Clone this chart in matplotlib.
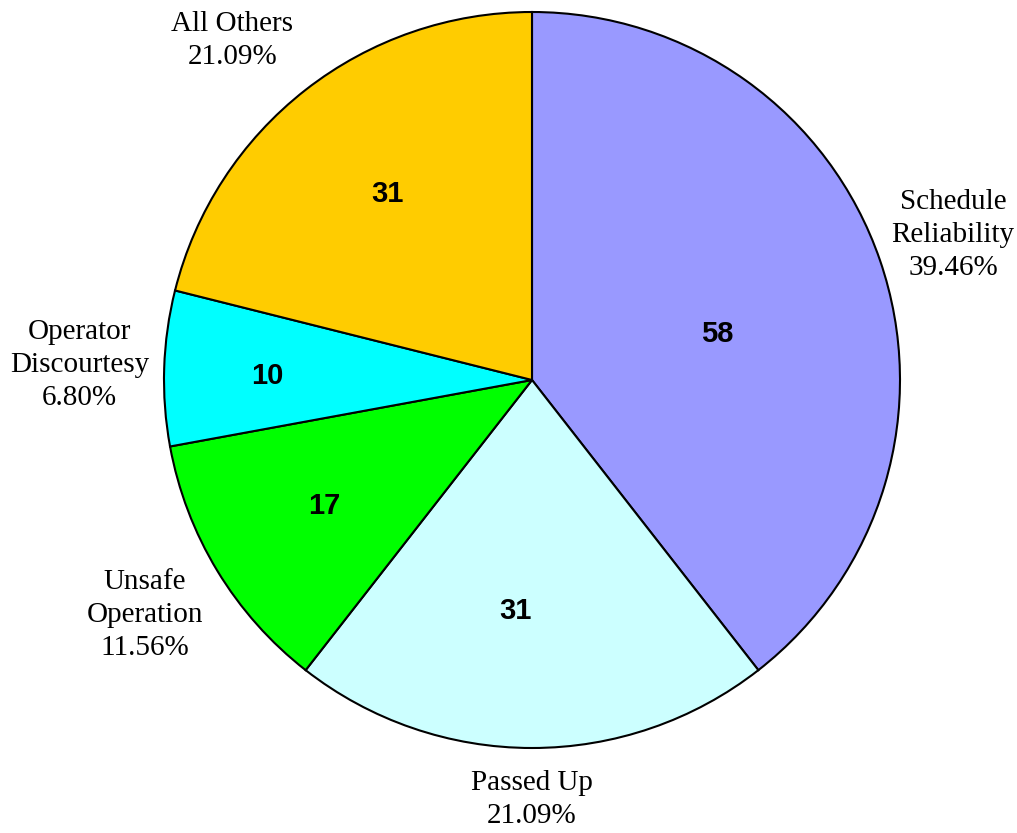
# Complaint categories pie chart

# Libraries
import numpy as np
import matplotlib.pyplot as plt


# Data
categories = ["Schedule\nReliability", "Passed Up", "Unsafe\nOperation",
              "Operator\nDiscourtesy", "All Others"]
counts = [58, 31, 17, 10, 31]
colors = ["#9999FF", "#CCFFFF", "#00FF00", "#00FFFF", "#FFCC00"]

# Label placement (fraction of radius, angle shift in degrees)
label_dist = [1.21, 1.14, 1.23, 1.23, 1.23]
label_shift = [0, 0, 0, 0, 3.5]
value_dist = [0.52, 0.63, 0.66, 0.72, 0.64]
value_shift = [-5, -4, 0, 1, 0]


# Figure
fig = plt.figure(figsize=[10.17, 8.33], dpi=100)
ax = fig.add_axes([0, 0, 1, 1])

total = sum(counts)
wedges, _ = ax.pie(counts, colors=colors, startangle=90, counterclock=False,
                   radius=1.0, wedgeprops=dict(edgecolor="black", linewidth=1.5))

for (w, cat, n, ld, ls, vd, vs) in zip(wedges, categories, counts, label_dist,
                                       label_shift, value_dist, value_shift):
    mid = (w.theta1 + w.theta2) / 2
    a = np.deg2rad(mid + ls)
    pct = 100 * n / total
    ax.text(ld * np.cos(a), ld * np.sin(a), f"{cat}\n{pct:.2f}%",
            ha="center", va="center", fontsize=21, family="Liberation Serif",
            linespacing=1.35)
    a = np.deg2rad(mid + vs)
    ax.text(vd * np.cos(a), vd * np.sin(a), f"{n}",
            ha="center", va="center", fontsize=21, fontweight="bold",
            family="Liberation Sans")

# Place the pie: centre at (532, 380) px, radius 368 px
ax.set_xlim(-532 / 368, (1017 - 532) / 368)
ax.set_ylim(-(833 - 380) / 368, 380 / 368)
ax.set_aspect("equal")
ax.axis("off")

plt.savefig("out.png", dpi=100)
plt.close(fig)
